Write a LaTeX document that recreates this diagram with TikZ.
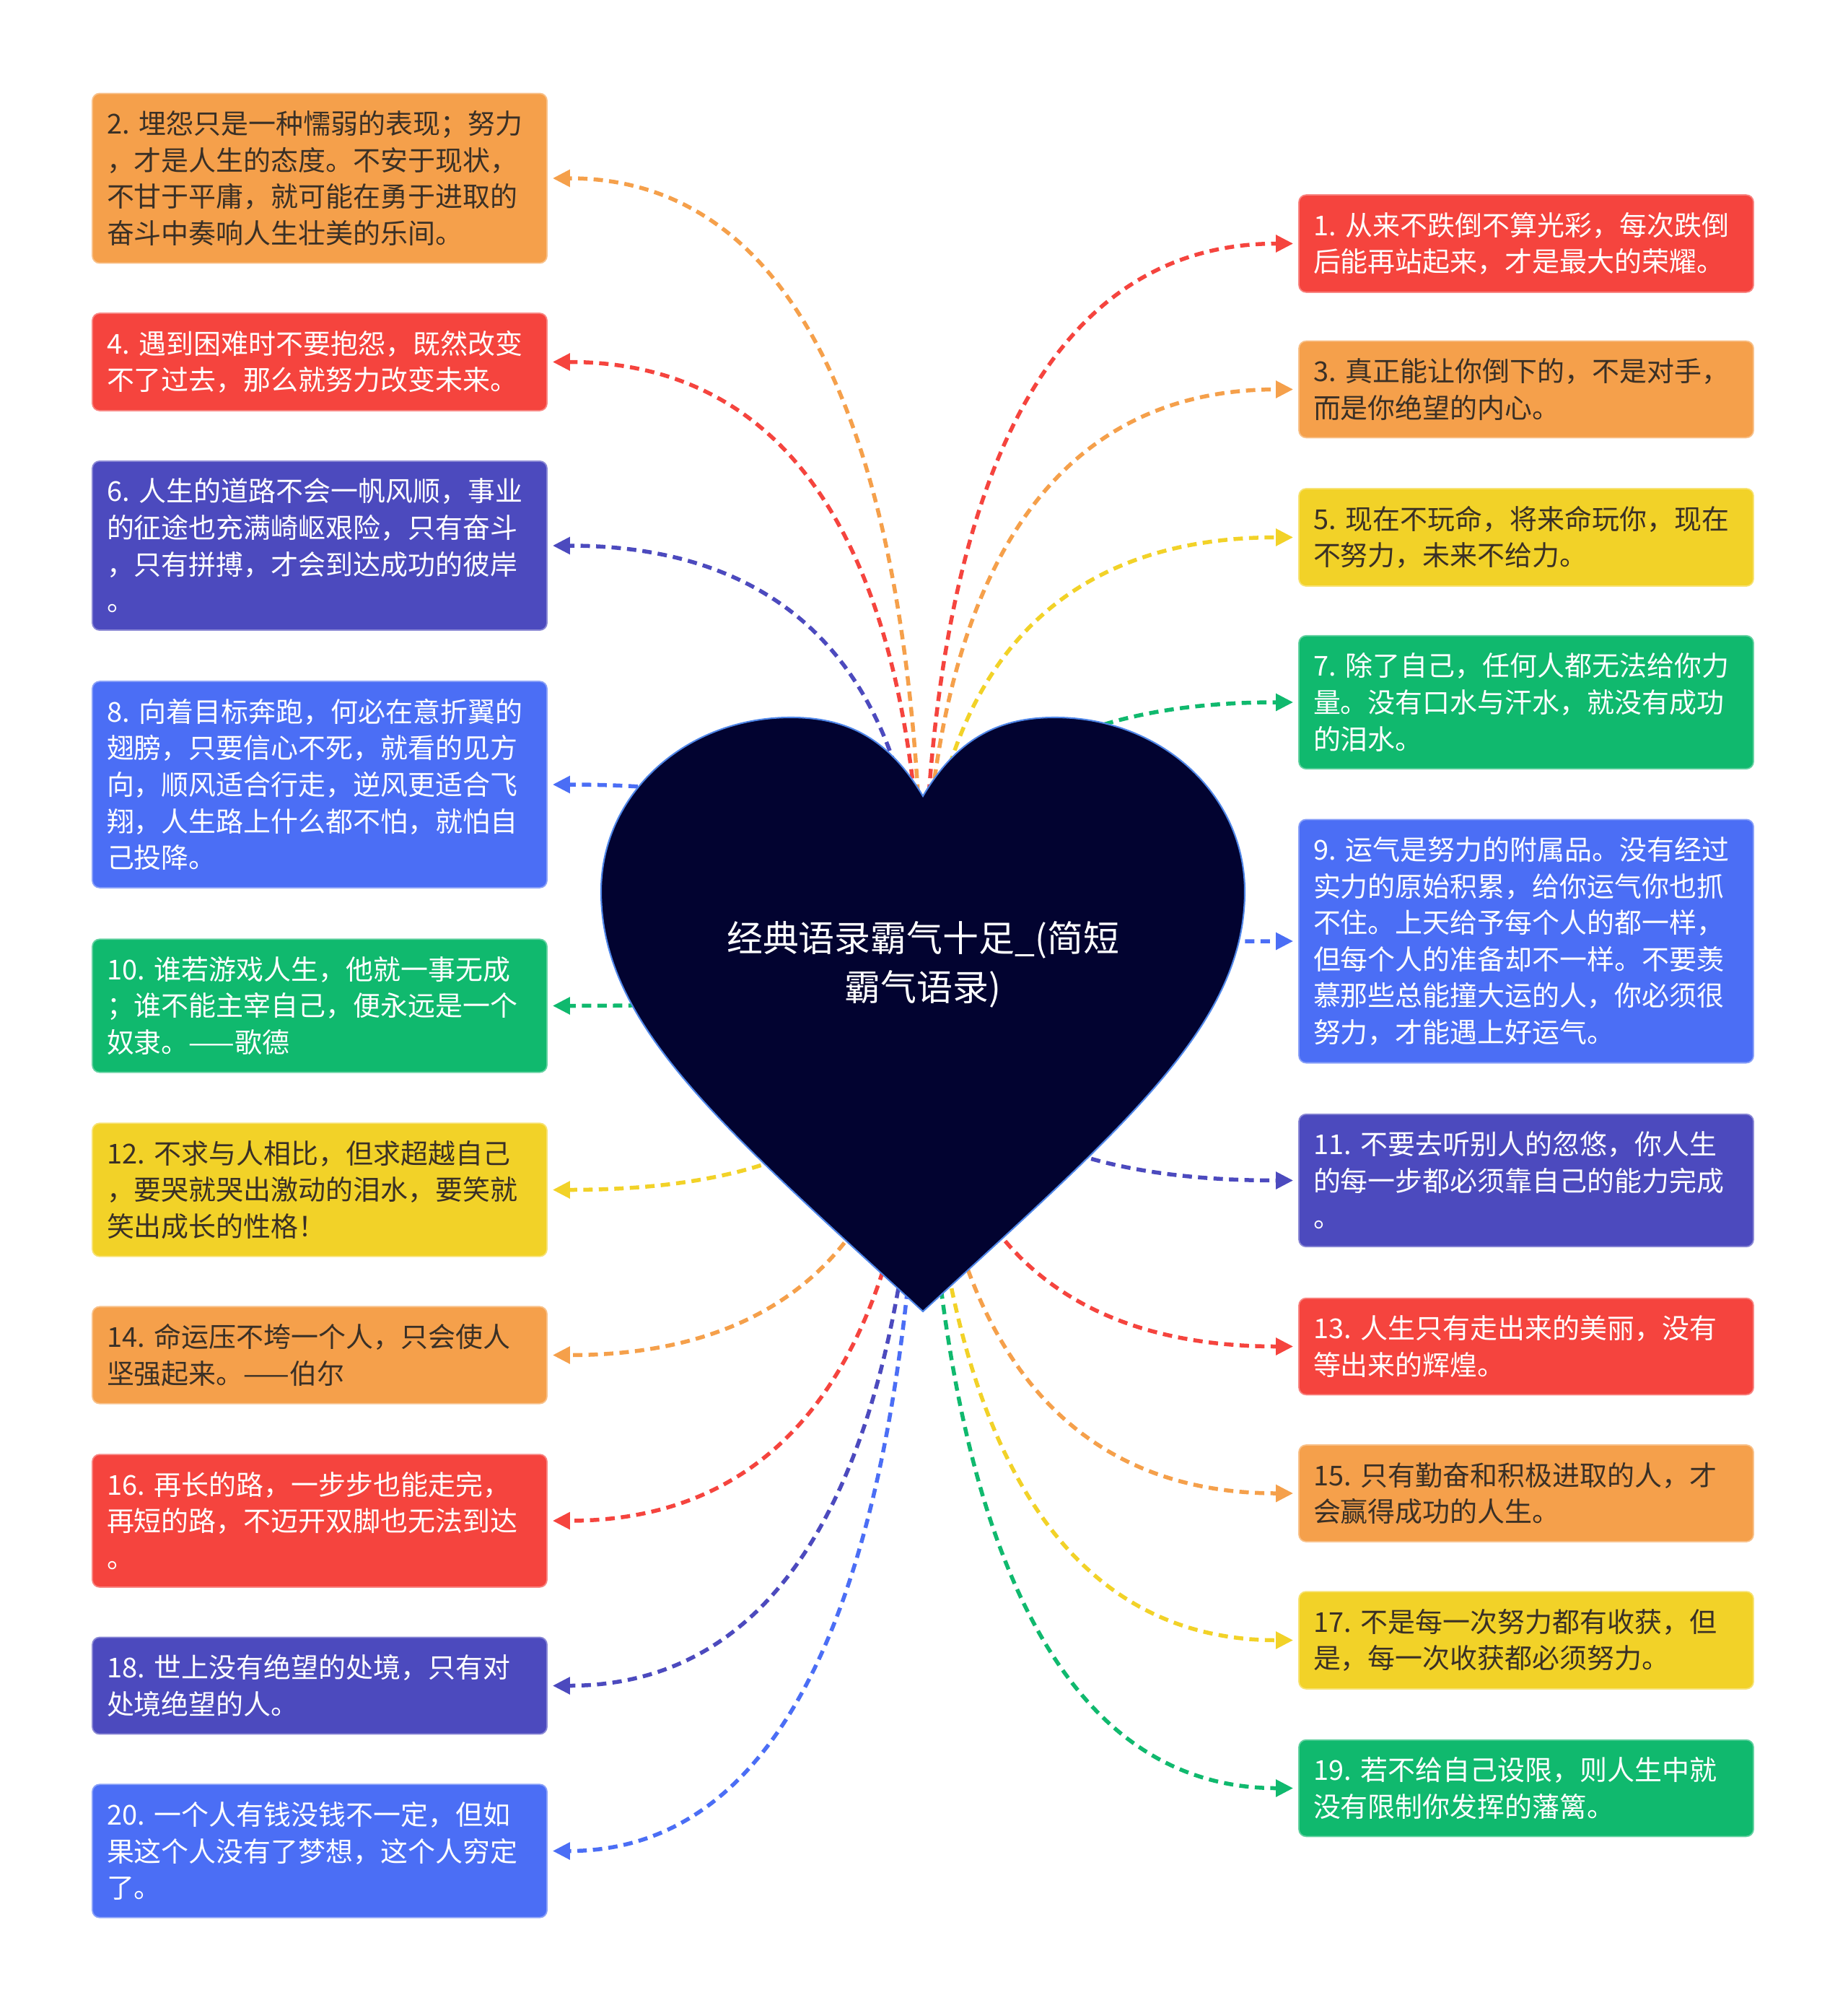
\documentclass[tikz,border=0pt]{standalone}
\usepackage{fontspec}
\newfontfamily\cjk{Noto Sans CJK SC}
\usetikzlibrary{arrows.meta, calc}

\definecolor{qorange}{HTML}{F5A04B}
\definecolor{qred}{HTML}{F5443E}
\definecolor{qindigo}{HTML}{4C4ABE}
\definecolor{qblue}{HTML}{4B6EF5}
\definecolor{qgreen}{HTML}{10B96E}
\definecolor{qyellow}{HTML}{F2D228}
\definecolor{heartfill}{HTML}{020330}
\definecolor{heartline}{HTML}{4F86E8}
\definecolor{inkdark}{HTML}{3A3026}

\newcommand{\nsp}{\hspace{0.35em}}

\tikzset{
  quote/.style={rectangle, rounded corners=0.1cm, fill=#1, draw=#1!65!white, line width=0.5pt,
    text width=5.9cm, inner xsep=0.2cm, inner ysep=0.24cm, align=left,
    font=\cjk\fontsize{10.8pt}{14.4pt}\selectfont},
  darktext/.style={text=inkdark},
  lighttext/.style={text=white},
  link/.style={draw=#1, line width=0.055cm, dash pattern=on 0.13cm off 0.085cm,
    -{Triangle[length=0.24cm,width=0.23cm,fill=#1]}, shorten >=0.07cm,
    to path={.. controls ($(\tikztostart)!0.667!(\tikztostart |- \tikztotarget)$)
      and ($(\tikztotarget)!0.667!(\tikztostart |- \tikztotarget)$) .. (\tikztotarget)}},
}

\begin{document}
\begin{tikzpicture}
  \useasboundingbox (0,0) rectangle (25.6,-27.89);

  % left column
  \node[quote=qorange, darktext] (b2) at (4.43,-2.47) {2.\nsp 埋怨只是一种懦弱的表现；努力\\，才是人生的态度。不安于现状，\\不甘于平庸，就可能在勇于进取的\\奋斗中奏响人生壮美的乐间。};
  \node[quote=qred, lighttext] (b4) at (4.43,-5.015) {4.\nsp 遇到困难时不要抱怨，既然改变\\不了过去，那么就努力改变未来。};
  \node[quote=qindigo, lighttext] (b6) at (4.43,-7.56) {6.\nsp 人生的道路不会一帆风顺，事业\\的征途也充满崎岖艰险，只有奋斗\\，只有拼搏，才会到达成功的彼岸\\。};
  \node[quote=qblue, lighttext] (b8) at (4.43,-10.87) {8.\nsp 向着目标奔跑，何必在意折翼的\\翅膀，只要信心不死，就看的见方\\向，顺风适合行走，逆风更适合飞\\翔，人生路上什么都不怕，就怕自\\己投降。};
  \node[quote=qgreen, lighttext] (b10) at (4.43,-13.935) {10.\nsp 谁若游戏人生，他就一事无成\\；谁不能主宰自己，便永远是一个\\奴隶。——歌德};
  \node[quote=qyellow, darktext] (b12) at (4.43,-16.485) {12.\nsp 不求与人相比，但求超越自己\\，要哭就哭出激动的泪水，要笑就\\笑出成长的性格！};
  \node[quote=qorange, darktext] (b14) at (4.43,-18.775) {14.\nsp 命运压不垮一个人，只会使人\\坚强起来。——伯尔};
  \node[quote=qred, lighttext] (b16) at (4.43,-21.07) {16.\nsp 再长的路，一步步也能走完，\\再短的路，不迈开双脚也无法到达\\。};
  \node[quote=qindigo, lighttext] (b18) at (4.43,-23.355) {18.\nsp 世上没有绝望的处境，只有对\\处境绝望的人。};
  \node[quote=qblue, lighttext] (b20) at (4.43,-25.645) {20.\nsp 一个人有钱没钱不一定，但如\\果这个人没有了梦想，这个人穷定\\了。};

  % right column
  \node[quote=qred, lighttext] (b1) at (21.15,-3.375) {1.\nsp 从来不跌倒不算光彩，每次跌倒\\后能再站起来，才是最大的荣耀。};
  \node[quote=qorange, darktext] (b3) at (21.15,-5.395) {3.\nsp 真正能让你倒下的，不是对手，\\而是你绝望的内心。};
  \node[quote=qyellow, darktext] (b5) at (21.15,-7.445) {5.\nsp 现在不玩命，将来命玩你，现在\\不努力，未来不给力。};
  \node[quote=qgreen, lighttext] (b7) at (21.15,-9.73) {7.\nsp 除了自己，任何人都无法给你力\\量。没有口水与汗水，就没有成功\\的泪水。};
  \node[quote=qblue, lighttext] (b9) at (21.15,-13.04) {9.\nsp 运气是努力的附属品。没有经过\\实力的原始积累，给你运气你也抓\\不住。上天给予每个人的都一样，\\但每个人的准备却不一样。不要羡\\慕那些总能撞大运的人，你必须很\\努力，才能遇上好运气。};
  \node[quote=qindigo, lighttext] (b11) at (21.15,-16.355) {11.\nsp 不要去听别人的忽悠，你人生\\的每一步都必须靠自己的能力完成\\。};
  \node[quote=qred, lighttext] (b13) at (21.15,-18.655) {13.\nsp 人生只有走出来的美丽，没有\\等出来的辉煌。};
  \node[quote=qorange, darktext] (b15) at (21.15,-20.69) {15.\nsp 只有勤奋和积极进取的人，才\\会赢得成功的人生。};
  \node[quote=qyellow, darktext] (b17) at (21.15,-22.725) {17.\nsp 不是每一次努力都有收获，但\\是，每一次收获都必须努力。};
  \node[quote=qgreen, lighttext] (b19) at (21.15,-24.775) {19.\nsp 若不给自己设限，则人生中就\\没有限制你发挥的藩篱。};

  \coordinate (hub) at (12.79,-13.36);

  % connectors, drawn under the heart
  \draw[link=qorange] (hub) to (b2.east);
  \draw[link=qred] (hub) to (b4.east);
  \draw[link=qindigo] (hub) to (b6.east);
  \draw[link=qblue] (hub) to (b8.east);
  \draw[link=qgreen] (hub) to (b10.east);
  \draw[link=qyellow] (hub) to (b12.east);
  \draw[link=qorange] (hub) to (b14.east);
  \draw[link=qred] (hub) to (b16.east);
  \draw[link=qindigo] (hub) to (b18.east);
  \draw[link=qblue] (hub) to (b20.east);
  \draw[link=qred] (hub) to (b1.west);
  \draw[link=qorange] (hub) to (b3.west);
  \draw[link=qyellow] (hub) to (b5.west);
  \draw[link=qgreen] (hub) to (b7.west);
  \draw[link=qblue] (hub) to (b9.west);
  \draw[link=qindigo] (hub) to (b11.west);
  \draw[link=qred] (hub) to (b13.west);
  \draw[link=qorange] (hub) to (b15.west);
  \draw[link=qyellow] (hub) to (b17.west);
  \draw[link=qgreen] (hub) to (b19.west);

  % heart
  \draw[fill=heartfill, draw=heartline, line width=0.6pt]
    (12.79,-11.03) .. controls (12.30,-10.20) and (11.70,-9.94) .. (10.96,-9.94)
    .. controls (9.50,-9.94) and (8.33,-11.00) .. (8.33,-12.35)
    .. controls (8.33,-14.20) and (10.00,-15.60) .. (12.79,-18.17)
    .. controls (15.58,-15.60) and (17.25,-14.20) .. (17.25,-12.35)
    .. controls (17.25,-11.00) and (16.08,-9.94) .. (14.62,-9.94)
    .. controls (13.88,-9.94) and (13.28,-10.20) .. (12.79,-11.03) -- cycle;
  \node[text=white, align=center, font=\cjk\fontsize{14.2pt}{19.3pt}\selectfont] (root) at (hub) {经典语录霸气十足\_(简短\\霸气语录)};
\end{tikzpicture}
\end{document}
